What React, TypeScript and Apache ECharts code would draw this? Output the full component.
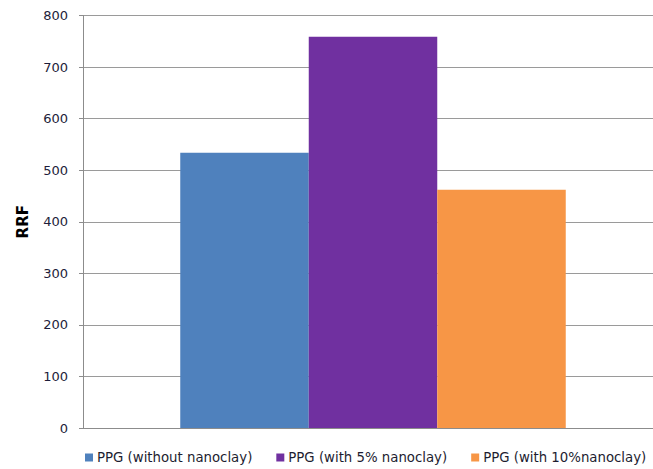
import React, { useEffect, useRef } from "react";
import * as echarts from "echarts";

const categories = [""];
const seriesNames = ["PPG (without nanoclay)", "PPG (with 5% nanoclay)", "PPG (with 10%nanoclay)"];
const seriesValues = [[534], [759], [462]];
const seriesColors = ["#4f81bd", "#7030a0", "#f79646"];
const yTicks = { min: 0, max: 800, interval: 100 };

export default function App() {
  const ref = useRef<HTMLDivElement>(null);
  useEffect(() => {
    if (!ref.current) return;
    const chart = echarts.init(ref.current, null, { renderer: "svg" });
    const bars = seriesNames.map((name, i) => ({
      name,
      type: "bar",
      data: seriesValues[i],
      barWidth: 128.5,
      barGap: "0%",
      itemStyle: { color: seriesColors[i] },
    }));
    chart.setOption({
      animation: false,
      backgroundColor: "#ffffff",
      grid: { left: 83, right: 0, top: 15.5, bottom: 41 },
      legend: {
        top: 446,
        left: 80,
        itemWidth: 8,
        itemHeight: 8,
        itemGap: 24,
        icon: "rect",
        textStyle: { fontFamily: "DejaVu Sans", fontSize: 13.3, color: "#1d1d30", padding: [0, 0, 0, -1] },
        data: seriesNames,
      },
      xAxis: {
        type: "category",
        data: categories,
        axisLine: { show: true, lineStyle: { color: "#8c8c8c", width: 1 } },
        axisTick: { show: false },
        axisLabel: { show: false },
      },
      yAxis: {
        type: "value",
        min: yTicks.min,
        max: yTicks.max,
        interval: yTicks.interval,
        name: "RRF",
        nameLocation: "middle",
        nameGap: 53,
        nameTextStyle: { fontFamily: "DejaVu Sans", fontSize: 15, fontWeight: "bold", color: "#000" },
        axisLine: { show: true, lineStyle: { color: "#8c8c8c", width: 1 } },
        axisTick: { show: true, length: 4, lineStyle: { color: "#8c8c8c" } },
        axisLabel: { margin: 15, fontFamily: "DejaVu Sans", fontSize: 13, color: "#1d1d3a" },
        splitLine: { show: true, lineStyle: { color: "#9a9a9a", width: 1 } },
      },
      series: [
        { name: "spacer", type: "bar", data: [null], barWidth: 10, barGap: "0%", silent: true },
        ...bars,
      ],
    });
    return () => chart.dispose();
  }, []);
  return <div ref={ref} style={{ width: 653, height: 469, position: "absolute", left: 0, top: 0 }} />;
}
